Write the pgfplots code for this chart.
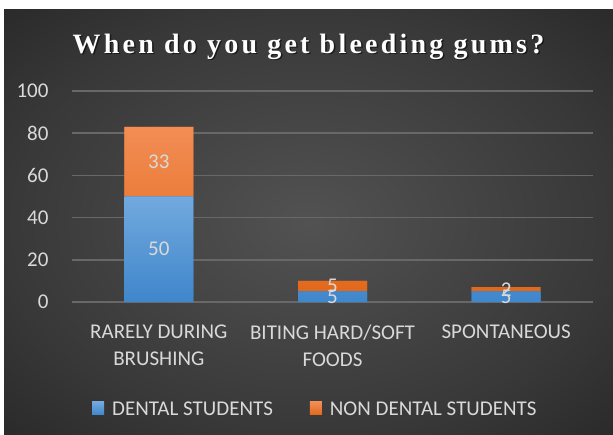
\documentclass[border=0pt]{standalone}
\usepackage{pgfplots}
\pgfplotsset{compat=1.18}
\usepackage{fontspec}
\setmainfont{Carlito}
\newfontfamily\titlefont[LetterSpace=11.5]{Liberation Serif}
\definecolor{txt}{HTML}{D9D9D9}
\definecolor{gridc}{HTML}{686868}
\definecolor{blueT}{HTML}{72A9DE}
\definecolor{blueB}{HTML}{3F86CB}
\definecolor{orT}{HTML}{F28D55}
\definecolor{orB}{HTML}{E2681B}
\definecolor{bgIn}{HTML}{525252}
\definecolor{bgMid}{HTML}{383838}
\definecolor{bgOut}{HTML}{272727}
\pgfdeclareradialshading{bgshade}{\pgfpoint{0bp}{0bp}}{color(0bp)=(bgIn); color(25bp)=(bgMid); color(38bp)=(bgOut); color(50bp)=(bgOut)}
\begin{document}
\begin{tikzpicture}[x=1pt,y=1pt]
\fill[white] (0,0) rectangle (613,434);
\shade[shading=bgshade] (4,0) rectangle (613,424);
\node[anchor=base, text=black, opacity=0.55, font={\titlefont\fontsize{28}{34}\selectfont\bfseries}] at (310,379.2) {When do you get bleeding gums?};
\node[anchor=base, text=white, font={\titlefont\fontsize{28}{34}\selectfont\bfseries}] at (308.5,380.7) {When do you get bleeding gums?};
\begin{axis}[
  at={(72pt,132pt)}, anchor=south west,
  scale only axis, width=521pt, height=211pt,
  ybar stacked, bar width=69pt,
  xmin=-0.5, xmax=2.5, ymin=0, ymax=100,
  ytick={0,20,...,100},
  xtick={0,1,2},
  xticklabels={{RARELY DURING\\BRUSHING},{BITING HARD/SOFT\\FOODS},{SPONTANEOUS}},
  xticklabel style={align=center, text=txt, font={\fontsize{21}{27}\selectfont}, yshift=-19pt},
  yticklabel style={text=txt, font={\fontsize{21}{25}\selectfont}, xshift=-20pt},
  /pgf/number format/assume math mode=true,
  axis line style={draw=none},
  tick style={draw=none},
  ymajorgrids, grid style={gridc, line width=1.5pt},
  legend style={at={(0.467,-0.507)}, anchor=center, draw=none, fill=none,
    text=txt, font={\fontsize{21}{25}\selectfont}, legend columns=2,
    /tikz/every odd column/.append style={column sep=6pt},
    /tikz/every even column/.append style={column sep=35pt}},
]
\addplot[draw=none, fill=blueB, top color=blueT, bottom color=blueB,
  legend image code/.code={\fill[blueB!80!blueT] (0pt,-6pt) rectangle (12pt,7pt);}]
  coordinates {(0,50) (1,5) (2,5)};
\addplot[draw=none, fill=orB, top color=orT, bottom color=orB,
  legend image code/.code={\fill[orB!80!orT] (0pt,-6pt) rectangle (12pt,7pt);}]
  coordinates {(0,33) (1,5) (2,2)};
\legend{DENTAL STUDENTS, NON DENTAL STUDENTS}
\end{axis}
\begin{axis}[
  at={(72pt,132pt)}, anchor=south west,
  scale only axis, width=521pt, height=211pt,
  xmin=-0.5, xmax=2.5, ymin=0, ymax=100,
  hide axis,
]
\addplot[draw=none, mark=none, nodes near coords, point meta=explicit symbolic,
  nodes near coords align=center,
  every node near coord/.append style={text=txt, font={\fontsize{21}{25}\selectfont}}]
  coordinates {(0,25)[50] (0,66.5)[33] (1,2.5)[5] (1,7.5)[5] (2,2.5)[5] (2,6)[2]};
\end{axis}
\end{tikzpicture}
\end{document}
